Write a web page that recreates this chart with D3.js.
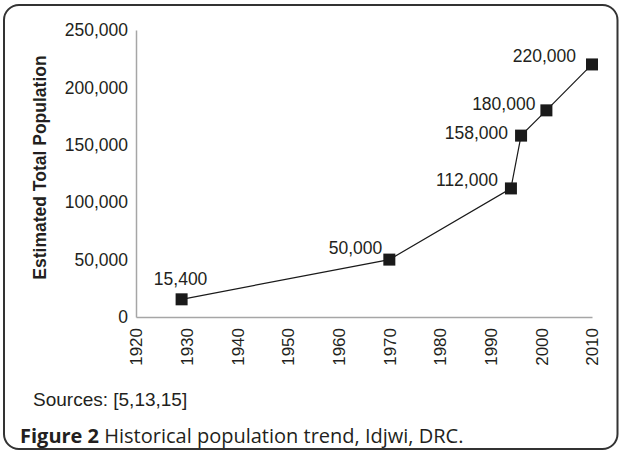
<!DOCTYPE html>
<html>
<head>
<meta charset="utf-8">
<script src="https://cdn.jsdelivr.net/npm/d3@7"></script>
<style>
  html, body { margin: 0; padding: 0; background: #fff; }
  svg { display: block; }
</style>
</head>
<body>
<svg id="chart" width="621" height="452"></svg>
<script>
// ---- data ----
const years = [1929, 1970, 1994, 1996, 2001, 2010];
const population = [15400, 50000, 112000, 158000, 180000, 220000];
const valueLabels = ["15,400", "50,000", "112,000", "158,000", "180,000", "220,000"];
const xTickValues = [1920, 1930, 1940, 1950, 1960, 1970, 1980, 1990, 2000, 2010];
const yTickValues = [0, 50000, 100000, 150000, 200000, 250000];
const yAxisTitle = "Estimated Total Population";
const sourcesText = "Sources: [5,13,15]";
const captionBold = "Figure 2";
const captionRest = " Historical population trend, Idjwi, DRC.";

// label placement (layout config): [anchor, dx, dy] relative to point
const labelPlacement = [
  ["middle", -1, -20],
  ["end", -7, -11.5],
  ["end", -13, -9],
  ["end", -13, -3],
  ["end", -11, -6.5],
  ["end", -16, -9]
];

const svg = d3.select("#chart");
const ink = "#231f20";
const font = "'Liberation Sans', Arial, Helvetica, sans-serif";

// frame
svg.append("rect")
  .attr("x", 4).attr("y", 5).attr("width", 613.5).attr("height", 444)
  .attr("rx", 15).attr("ry", 15)
  .attr("fill", "#fff").attr("stroke", "#333").attr("stroke-width", 2);

const x = d3.scaleLinear().domain([1920, 2010]).range([136, 592]);
const y = d3.scaleLinear().domain([0, 250000]).range([317, 30]);

// y axis
const yAxis = d3.axisLeft(y).tickValues(yTickValues).tickSize(0).tickPadding(8)
  .tickFormat(d3.format(","));
const gy = svg.append("g").attr("transform", "translate(136,0)").call(yAxis);
gy.select(".domain").attr("stroke", "#a6a6a6").attr("stroke-width", 1.5);
gy.selectAll("text").attr("font-family", font).attr("font-size", 17.5).attr("fill", ink);

// x axis
const xAxis = d3.axisBottom(x).tickValues(xTickValues).tickSize(0).tickFormat(d3.format("d"));
const gx = svg.append("g").attr("transform", "translate(0,317)").call(xAxis);
gx.select(".domain").attr("stroke", "#a6a6a6").attr("stroke-width", 1.5);
gx.selectAll("text")
  .attr("font-family", font).attr("font-size", 17).attr("fill", ink)
  .attr("text-anchor", "end")
  .attr("transform", "rotate(-90)")
  .attr("x", -11).attr("y", 0).attr("dy", "0.35em");

// y title
svg.append("text")
  .attr("transform", "translate(46,167.5) rotate(-90)")
  .attr("text-anchor", "middle")
  .attr("font-family", font).attr("font-size", 17.5).attr("font-weight", "bold")
  .attr("fill", ink)
  .text(yAxisTitle);

// line
const pts = years.map((yr, i) => ({ yr, v: population[i], lab: valueLabels[i], pl: labelPlacement[i] }));
svg.append("path")
  .datum(pts)
  .attr("fill", "none").attr("stroke", "#1a1a1a").attr("stroke-width", 1.2)
  .attr("d", d3.line().x(d => x(d.yr)).y(d => y(d.v)));

// markers
const ms = 12;
svg.selectAll("rect.pt").data(pts).enter().append("rect")
  .attr("class", "pt")
  .attr("x", d => x(d.yr) - ms / 2).attr("y", d => y(d.v) - ms / 2)
  .attr("width", ms).attr("height", ms)
  .attr("fill", "#1a1a1a");

// data labels
svg.selectAll("text.lab").data(pts).enter().append("text")
  .attr("class", "lab")
  .attr("x", d => x(d.yr) + d.pl[1])
  .attr("y", d => y(d.v) + d.pl[2])
  .attr("dy", "0.35em")
  .attr("text-anchor", d => d.pl[0])
  .attr("font-family", font).attr("font-size", 17.5).attr("fill", ink)
  .text(d => d.lab);

// sources
svg.append("text")
  .attr("x", 33).attr("y", 406)
  .attr("font-family", font).attr("font-size", 19).attr("fill", ink)
  .text(sourcesText);

// caption
const cap = svg.append("text")
  .attr("x", 20).attr("y", 443)
  .attr("font-family", "'Open Sans', 'Noto Sans', sans-serif").attr("font-size", 20).attr("fill", ink);
cap.append("tspan").attr("font-weight", "bold").text(captionBold);
cap.append("tspan").text(captionRest);
</script>
</body>
</html>
